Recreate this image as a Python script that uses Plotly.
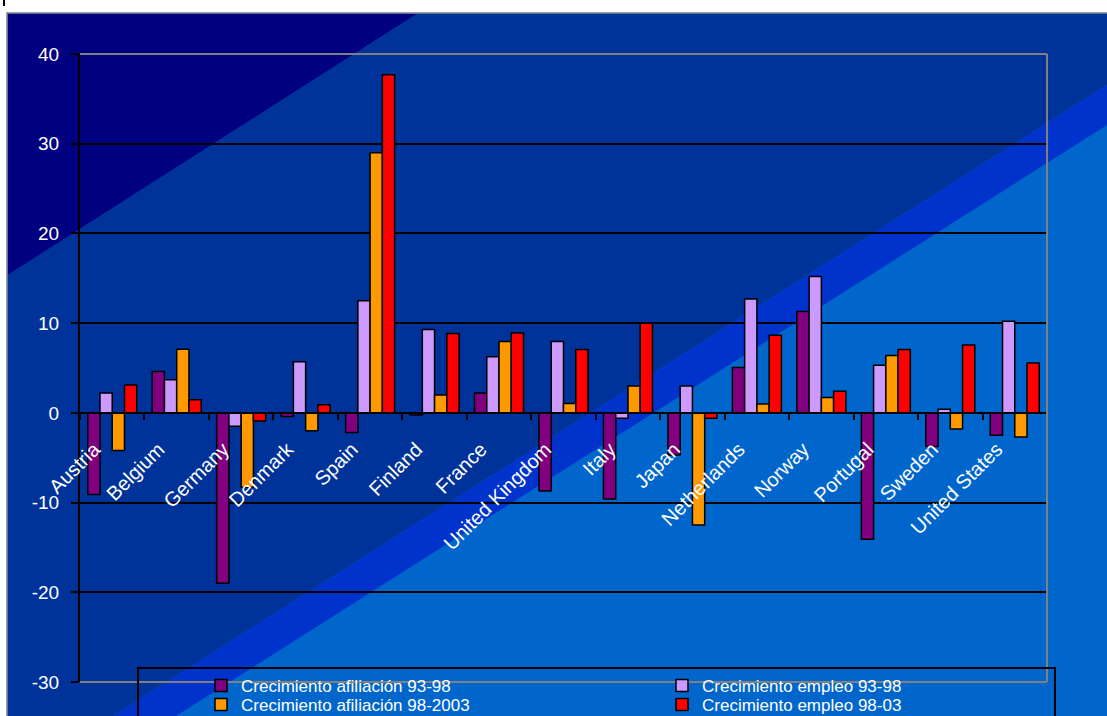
import plotly.graph_objects as go

# ---------------- data ----------------
countries = ["Austria", "Belgium", "Germany", "Denmark", "Spain", "Finland", "France",
             "United Kingdom", "Italy", "Japan", "Netherlands", "Norway", "Portugal",
             "Sweden", "United States"]
afil_93_98 = [-9.1, 4.6, -19.0, -0.4, -2.2, -0.25, 2.2, -8.7, -9.6, -4.7, 5.05, 11.3, -14.1, -3.75, -2.5]
empleo_93_98 = [2.2, 3.7, -1.5, 5.7, 12.5, 9.3, 6.25, 7.95, -0.6, 3.0, 12.7, 15.2, 5.3, 0.4, 10.2]
afil_98_03 = [-4.2, 7.1, -8.3, -2.0, 29.0, 2.0, 7.95, 1.05, 3.0, -12.5, 1.0, 1.7, 6.4, -1.8, -2.7]
empleo_98_03 = [3.1, 1.45, -0.9, 0.9, 37.7, 8.85, 8.9, 7.05, 10.0, -0.6, 8.65, 2.4, 7.05, 7.55, 5.55]
y_ticks = [-30, -20, -10, 0, 10, 20, 30, 40]
y_tick_labels = ["-30", "-20", "-10", "0", "10", "20", "30", "40"]

series = [
    ("Crecimiento afiliación 93-98", afil_93_98, "#800080"),
    ("Crecimiento empleo 93-98", empleo_93_98, "#CC99FF"),
    ("Crecimiento afiliación 98-2003", afil_98_03, "#FF9900"),
    ("Crecimiento empleo 98-03", empleo_98_03, "#FF0000"),
]

W, H = 1107, 716
L, R, T, B = 80, 1047, 54, 682  # plot area in px


def px(x):
    return (x - L) / (R - L)


def py(y):
    return (B - y) / (B - T)


def path(points):
    return "M " + " L ".join(f"{px(a):.5f},{py(b):.5f}" for a, b in points) + " Z"


FONT = "Liberation Sans, Arial, sans-serif"
LEG_FONT = dict(family=FONT, color="white", size=17)

# legend slot positions (left px, top px) for each series, 2x2 layout
legend_slots = [(201, 668), (662, 668), (201, 687), (662, 687)]
legend_ids = ["legend", "legend2", "legend3", "legend4"]

fig = go.Figure()
for (name, vals, col), lid in zip(series, legend_ids):
    fig.add_trace(go.Bar(
        x=countries, y=vals, name=name, legend=lid,
        marker=dict(color=col, line=dict(color="black", width=1.5)),
    ))

shapes = []
# chart frame / light blue background
shapes.append(dict(type="rect", xref="paper", yref="paper", layer="below",
                   x0=px(7), x1=px(1112), y0=py(13), y1=py(722),
                   fillcolor="#0066CC", line=dict(color="#7f7f7f", width=1.5)))
# navy triangle
shapes.append(dict(type="path", xref="paper", yref="paper", layer="below",
                   path=path([(8, 14), (417, 14), (8, 275)]),
                   fillcolor="#000080", line=dict(width=0)))
# mid band
shapes.append(dict(type="path", xref="paper", yref="paper", layer="below",
                   path=path([(417, 14), (1107, 14), (1107, 85), (113, 716), (8, 716), (8, 275)]),
                   fillcolor="#003399", line=dict(width=0)))
# bright band
shapes.append(dict(type="path", xref="paper", yref="paper", layer="below",
                   path=path([(1107, 85), (1107, 125), (176, 716), (113, 716)]),
                   fillcolor="#0033CC", line=dict(width=0)))
# plot-area border (top, right, bottom) in gray
for x0, y0, x1, y1 in [(L, T, R, T), (R, T, R, B), (L, B, R, B)]:
    shapes.append(dict(type="line", xref="paper", yref="paper", layer="above",
                       x0=px(x0), y0=py(y0), x1=px(x1), y1=py(y1),
                       line=dict(color="#808080", width=2)))
# legend box
shapes.append(dict(type="rect", xref="paper", yref="paper", layer="above",
                   x0=px(138), x1=px(1055), y0=py(668), y1=py(730),
                   line=dict(color="black", width=2), fillcolor="rgba(0,0,0,0)"))
# small mark top-left
shapes.append(dict(type="line", xref="paper", yref="paper", layer="above",
                   x0=px(4), x1=px(4), y0=py(0), y1=py(6),
                   line=dict(color="black", width=2)))

legends = {}
for lid, (lx, ly) in zip(legend_ids, legend_slots):
    legends[lid] = dict(orientation="v", x=px(lx), xanchor="left", y=py(ly), yanchor="top",
                        bgcolor="rgba(0,0,0,0)", borderwidth=0, font=LEG_FONT,
                        itemclick=False, itemdoubleclick=False)

fig.update_layout(
    width=W, height=H, autosize=False,
    margin=dict(l=L, r=W - R, t=T, b=H - B, pad=0, autoexpand=False),
    paper_bgcolor="white",
    plot_bgcolor="rgba(0,0,0,0)",
    barmode="group", bargap=0.24, bargroupgap=0,
    font=dict(family=FONT, color="white", size=17),
    shapes=shapes,
    showlegend=True,
    xaxis=dict(type="category", anchor="free", position=30 / 70,
               range=[-0.5, 14.5], showline=True, linecolor="black", linewidth=2,
               ticks="outside", tickson="boundaries", ticklen=6, tickwidth=1.5,
               tickcolor="black", tickangle=-45, showgrid=False, zeroline=False,
               ticklabelstandoff=16, ticklabelshift=-18,
               tickfont=dict(family=FONT, color="white", size=20)),
    yaxis=dict(range=[-30, 40], tickvals=y_ticks, ticktext=y_tick_labels,
               showgrid=True, gridcolor="black",
               gridwidth=1.5, showline=True, linecolor="black", linewidth=2,
               ticks="outside", ticklen=7, tickwidth=1.5, tickcolor="black",
               zeroline=False, ticklabelstandoff=8,
               tickfont=dict(family=FONT, color="white", size=19)),
    **legends,
)

fig.write_html("out.html")
